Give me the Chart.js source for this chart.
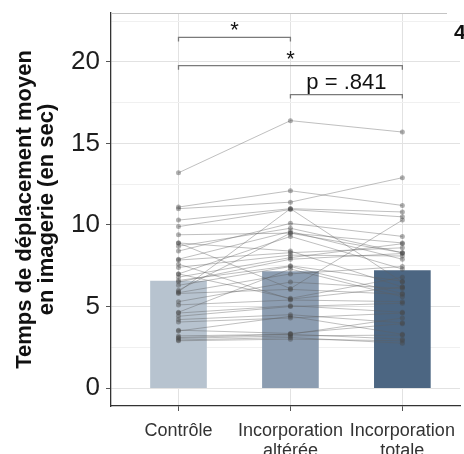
<!DOCTYPE html>
<html>
<head>
<meta charset="utf-8">
<script src="https://cdn.jsdelivr.net/npm/chart.js@4"></script>
<style>
  body { margin: 0; background: #fff; }
  canvas { display: block; }
</style>
</head>
<body>
<canvas id="chart" width="464" height="454"></canvas>
<script>
const categories = ["Contrôle", ["Incorporation", "altérée"], ["Incorporation", "totale"]];
const meanValues = [6.56, 7.15, 7.21];

// one value per participant, same order in each list
const controle = [13.2, 11.1, 11.0, 10.3, 9.9, 9.4, 8.9, 8.7, 8.4, 7.9, 7.85, 7.6, 7.4, 7.0, 6.8, 6.6, 6.5, 6.3, 5.9, 5.85,
  5.8, 5.3, 5.1, 4.65, 4.6, 4.4, 4.2, 4.05, 3.55, 3.5, 3.2, 3.1, 3.05, 2.95, 2.9, 6.0, 7.0, 8.9];
const alteree = [16.4, 12.1, 11.4, 11.0, 10.95, 9.5, 6.1, 9.8, 10.1, 9.6, 8.3, 5.45, 8.15, 9.3, 8.0, 7.5, 7.9, 7.45, 11.0, 7.0,
  6.05, 6.5, 5.4, 7.3, 5.05, 5.0, 4.5, 4.3, 3.35, 4.4, 3.3, 3.3, 3.2, 3.1, 3.0, 9.5, 5.5, 8.4];
const totale = [15.7, 11.2, 12.9, 10.8, 10.5, 8.9, 10.3, 8.3, 9.3, 7.9, 8.6, 6.2, 8.1, 7.3, 8.85, 6.55, 8.25, 5.8, 6.5, 7.45,
  5.75, 6.1, 5.3, 5.6, 4.65, 5.2, 4.0, 4.6, 3.95, 3.3, 4.3, 3.0, 3.25, 2.75, 2.9, 8.3, 6.8, 6.2];

const yTicks = [0, 2.5, 5, 7.5, 10, 12.5, 15, 17.5, 20, 22.5];

const comparisons = [
  { from: 1, to: 2, y: 21.5, label: "*" },
  { from: 1, to: 3, y: 19.77, label: "*" },
  { from: 2, to: 3, y: 18.0, label: "p = .841" }
];

const barColors = ["#b7c3cf", "#8c9db1", "#4c6682"];
const FONT = "'Liberation Sans', Arial, sans-serif";

const participantSets = controle.map((c, i) => ({
  type: "line",
  order: 1,
  data: [{ x: 1, y: c }, { x: 2, y: alteree[i] }, { x: 3, y: totale[i] }],
  borderColor: "rgba(95,95,95,0.4)",
  borderWidth: 1,
  pointRadius: 2.5,
  pointBorderWidth: 0,
  pointBackgroundColor: "rgba(70,70,70,0.42)",
  tension: 0
}));

const extras = {
  id: "extras",
  afterDatasetsDraw(chart) {
    const { ctx, chartArea, scales } = chart;
    const x = scales.x, y = scales.y;
    ctx.save();
    // top frame line
    ctx.strokeStyle = "#c4c4c4";
    ctx.lineWidth = 1;
    ctx.beginPath();
    ctx.moveTo(chartArea.left, chartArea.top + 0.5);
    ctx.lineTo(447, chartArea.top + 0.5);
    ctx.stroke();

    // significance brackets
    ctx.strokeStyle = "#7a7a7a";
    ctx.lineWidth = 1.3;
    ctx.fillStyle = "#111";
    ctx.textAlign = "center";
    ctx.textBaseline = "alphabetic";
    comparisons.forEach(cmp => {
      const x1 = x.getPixelForValue(cmp.from);
      const x2 = x.getPixelForValue(cmp.to);
      const yy = y.getPixelForValue(cmp.y);
      ctx.beginPath();
      ctx.moveTo(x1, yy + 4);
      ctx.lineTo(x1, yy);
      ctx.lineTo(x2, yy);
      ctx.lineTo(x2, yy + 4);
      ctx.stroke();
      ctx.font = "22px " + FONT;
      const off = cmp.label === "*" ? 0 : 6;
      ctx.fillText(cmp.label, (x1 + x2) / 2, yy - off);
    });

    // panel label of the neighbouring figure
    ctx.font = "bold 21px " + FONT;
    ctx.textAlign = "left";
    ctx.fillText("4", 454, 39);
    ctx.restore();
  }
};

new Chart(document.getElementById("chart"), {
  type: "bar",
  data: {
    datasets: [
      {
        type: "bar",
        order: 2,
        data: meanValues.map((v, i) => ({ x: i + 1, y: v })),
        backgroundColor: barColors,
        barThickness: 56,
        borderWidth: 0
      },
      ...participantSets
    ]
  },
  options: {
    responsive: false,
    animation: false,
    layout: { padding: { top: 13, right: 0, bottom: 0, left: 0 } },
    plugins: { legend: { display: false }, tooltip: { enabled: false } },
    scales: {
      x: {
        type: "linear",
        min: 0.397,
        max: 3.515,
        offset: false,
        afterBuildTicks: s => { s.ticks = [1, 2, 3].map(v => ({ value: v })); },
        afterFit: s => { s.height = 48; s.paddingLeft = 0; s.paddingRight = 0; },
        ticks: {
          callback: v => categories[v - 1],
          color: "#333",
          font: { family: FONT, size: 18, lineHeight: 1.1 },
          padding: 10,
          maxRotation: 0
        },
        grid: { offset: false, color: "#e2e2e2", tickColor: "#555", tickLength: 5, lineWidth: 1 },
        border: { color: "#333", width: 1.3 }
      },
      y: {
        min: -1.1,
        max: 23.0,
        afterBuildTicks: s => { s.ticks = yTicks.map(v => ({ value: v })); },
        afterFit: s => { s.width = 111; s.paddingTop = 0; s.paddingBottom = 0; },
        ticks: {
          callback: v => (v % 5 === 0 ? String(v) : ""),
          color: "#1e1e1e",
          font: { family: FONT, size: 26 },
          padding: 6
        },
        grid: {
          color: c => (c.tick && c.tick.value % 5 === 0 ? "#e2e2e2" : "#f0f0f0"),
          tickColor: c => (c.tick && c.tick.value % 5 === 0 ? "#555" : "rgba(0,0,0,0)"),
          tickLength: 5,
          lineWidth: 1
        },
        border: { color: "#333", width: 1.3 },
        title: {
          display: true,
          text: ["Temps de déplacement moyen", "en imagerie (en sec)"],
          color: "#111",
          font: { family: FONT, size: 22, weight: "bold", lineHeight: 1.0 },
          padding: { top: 14, bottom: 0 }
        }
      }
    }
  },
  plugins: [extras]
});
</script>
</body>
</html>
